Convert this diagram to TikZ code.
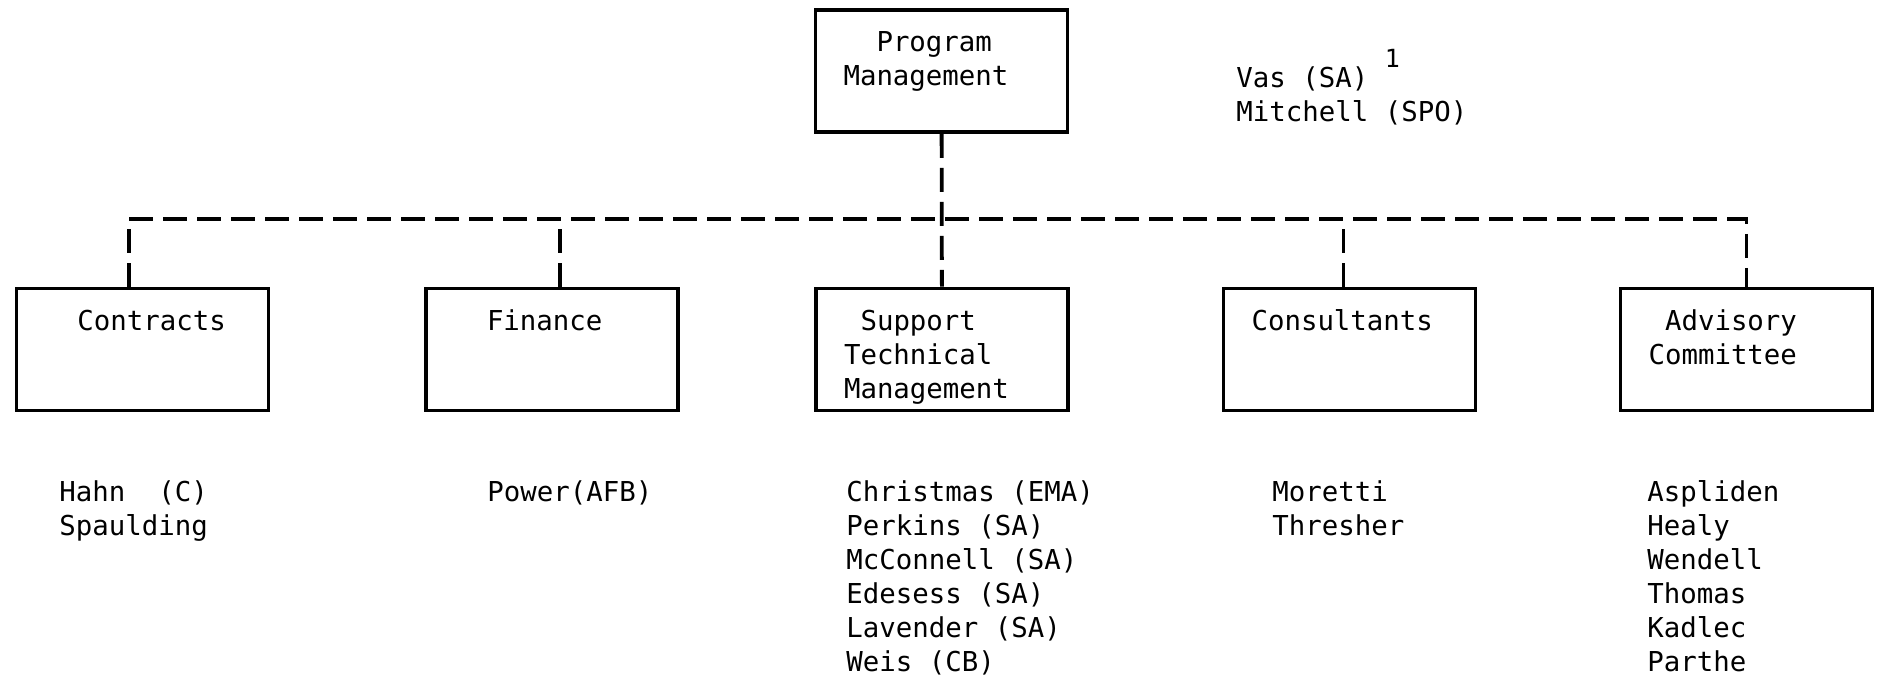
\documentclass[tikz,border=0pt]{standalone}
\usepackage{fontspec}
\setmainfont{DejaVu Sans Mono}
\usepackage{tikz}
\newcommand{\orgfont}{\fontsize{13.7}{17}\selectfont}
\tikzset{
  orgbox/.style={draw,line width=1.9pt,text width=98pt,align=left,font=\orgfont,
    inner xsep=14pt,inner ysep=0pt,text height=21pt,text depth=40pt},
  namelist/.style={align=left,anchor=north west,inner sep=0pt,font=\orgfont},
  link/.style={line width=1.9pt,dash pattern=on 12pt off 5pt},
}
\begin{document}
\begin{tikzpicture}[x=0.5pt,y=-0.5pt]
  \useasboundingbox (0,0) rectangle (1877,678);
  \node[orgbox] (prog) at (941.5,71) {\hphantom{00}Program\\Management};
  \node[namelist] (staff) at (1236,49) {Vas (SA) \raisebox{10pt}{\fontsize{12.5}{12.5}\selectfont 1}\\Mitchell (SPO)};
  \node[orgbox] (contracts) at (142.5,349.5) {\hphantom{00}Contracts};
  \node[orgbox] (finance) at (552,349.5) {\hphantom{00}Finance};
  \node[orgbox] (support) at (942,349.5) {\hphantom{0}Support\\Technical\\Management};
  \node[orgbox] (consult) at (1349.5,349.5) {Consultants};
  \node[orgbox] (advisory) at (1746.5,349.5) {\hphantom{0}Advisory\\Committee};
  \coordinate (bar) at (0,219);
  % dashed links
  \draw[link] (prog) -- (support);
  \draw[link] ([xshift=-6.75pt]contracts.north) -- ([xshift=-6.75pt]contracts.north |- bar)
    -- (advisory.north |- bar) -- (advisory.north);
  \foreach \b/\s in {finance/4pt,consult/-3pt}{
    \draw[link] ([xshift=\s]\b.north) -- ([xshift=\s]\b.north |- bar);
  }
  % people
  \node[namelist] (contractsppl) at (59,480) {Hahn~~(C)\\Spaulding};
  \node[namelist] (financeppl) at (487,480) {Power(AFB)};
  \node[namelist] (supportppl) at (846,480) {Christmas (EMA)\\Perkins (SA)\\McConnell (SA)\\Edesess (SA)\\Lavender (SA)\\Weis (CB)};
  \node[namelist] (consultppl) at (1272,480) {Moretti\\Thresher};
  \node[namelist] (advisoryppl) at (1647,480) {Aspliden\\Healy\\Wendell\\Thomas\\Kadlec\\Parthe};
\end{tikzpicture}
\end{document}
